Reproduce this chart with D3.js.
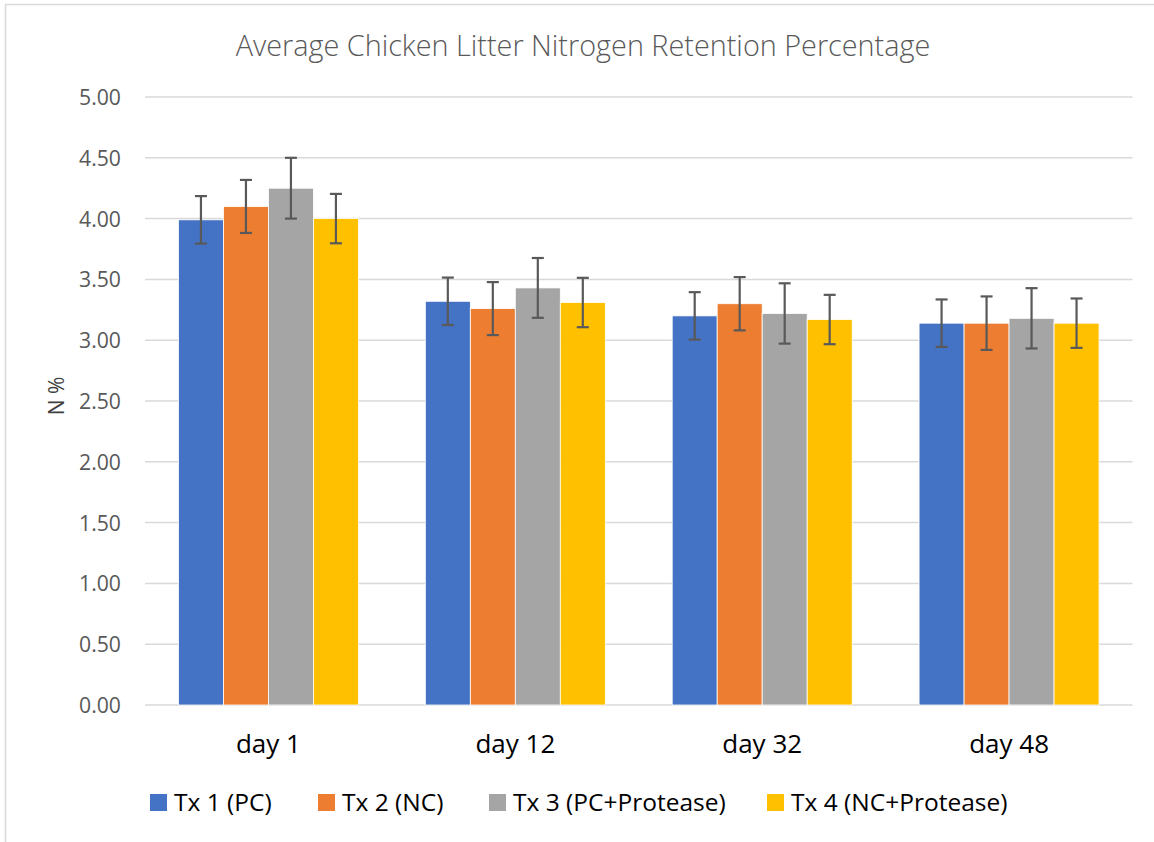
<!DOCTYPE html>
<html>
<head>
<meta charset="utf-8">
<script src="https://cdn.jsdelivr.net/npm/d3@7"></script>
<style>
  html, body { margin: 0; padding: 0; background: #fff; }
  svg { display: block; }
  text { font-family: "Open Sans", "Noto Sans", sans-serif; }
</style>
</head>
<body>
<svg id="chart" width="1154" height="842"></svg>
<script>
const title = "Average Chicken Litter Nitrogen Retention Percentage";
const yAxisLabel = "N %";
const categories = ["day 1", "day 12", "day 32", "day 48"];
const seriesNames = ["Tx 1 (PC)", "Tx 2 (NC)", "Tx 3 (PC+Protease)", "Tx 4 (NC+Protease)"];
const seriesColors = ["#4472C4", "#ED7D31", "#A5A5A5", "#FFC000"];
const tx1 = [3.99, 3.32, 3.20, 3.14];
const tx2 = [4.10, 3.26, 3.30, 3.14];
const tx3 = [4.25, 3.43, 3.22, 3.18];
const tx4 = [4.00, 3.31, 3.17, 3.14];
const err1 = [0.195, 0.195, 0.195, 0.195];
const err2 = [0.218, 0.218, 0.219, 0.220];
const err3 = [0.250, 0.246, 0.248, 0.248];
const err4 = [0.203, 0.203, 0.203, 0.203];
const yTicks = [0, 0.5, 1, 1.5, 2, 2.5, 3, 3.5, 4, 4.5, 5];

const seriesValues = [tx1, tx2, tx3, tx4];
const seriesErrors = [err1, err2, err3, err4];

const svg = d3.select("#chart");
const W = 1154, H = 842;
const plot = { left: 145, right: 1132.5, top: 97, bottom: 705 };

// outer border
svg.append("rect")
  .attr("x", 5.5).attr("y", 4.5)
  .attr("width", W + 10).attr("height", H + 10)
  .attr("fill", "none").attr("stroke", "#d9d9d9").attr("stroke-width", 1.5);

const x0 = d3.scaleBand().domain(categories).range([plot.left, plot.right]).paddingInner(0.271).paddingOuter(0.1355);
const x1 = d3.scaleBand().domain(seriesNames).range([0, x0.bandwidth()]).padding(0);
const y = d3.scaleLinear().domain([0, 5]).range([plot.bottom, plot.top]);

// gridlines
svg.append("g").selectAll("line").data(yTicks).join("line")
  .attr("x1", plot.left).attr("x2", plot.right)
  .attr("y1", d => y(d)).attr("y2", d => y(d))
  .attr("stroke", "#d9d9d9").attr("stroke-width", 1.5);

// y tick labels
const yAxis = d3.axisLeft(y).tickValues(yTicks).tickFormat(d3.format(".2f")).tickSize(0).tickPadding(0);
const gy = svg.append("g").attr("transform", `translate(121,0)`).call(yAxis);
gy.select(".domain").remove();
gy.selectAll("text").attr("font-size", 21.2).attr("fill", "#595959").attr("dy", "0.35em")
  .style("font-family", "'Open Sans', sans-serif");

// bars
const rows = [];
categories.forEach((c, ci) => {
  seriesNames.forEach((s, si) => {
    rows.push({ cat: c, ser: s, si, v: seriesValues[si][ci], e: seriesErrors[si][ci] });
  });
});

const gBars = svg.append("g");
gBars.selectAll("rect").data(rows).join("rect")
  .attr("x", d => x0(d.cat) + x1(d.ser))
  .attr("y", d => y(d.v))
  .attr("width", x1.bandwidth())
  .attr("height", d => y(0) - y(d.v))
  .attr("fill", d => seriesColors[d.si])
  .attr("stroke", "#ffffff").attr("stroke-width", 0.8);

// error bars
const gErr = svg.append("g").attr("stroke", "#595959").attr("stroke-width", 2.2);
rows.forEach(d => {
  const cx = x0(d.cat) + x1(d.ser) + x1.bandwidth() / 2;
  const yt = y(d.v + d.e), yb = y(d.v - d.e);
  gErr.append("line").attr("x1", cx).attr("x2", cx).attr("y1", yt).attr("y2", yb);
  gErr.append("line").attr("x1", cx - 6).attr("x2", cx + 6).attr("y1", yt).attr("y2", yt);
  gErr.append("line").attr("x1", cx - 6).attr("x2", cx + 6).attr("y1", yb).attr("y2", yb);
});

// x axis labels
const xAxis = d3.axisBottom(x0).tickSize(0).tickPadding(0);
const gx = svg.append("g").attr("transform", `translate(0,${plot.bottom})`).call(xAxis);
gx.select(".domain").remove();
gx.selectAll("text").attr("font-size", 26).attr("fill", "#000").attr("y", 48).attr("dy", 0)
  .style("font-family", "'Open Sans', sans-serif");

// title
svg.append("text")
  .attr("x", 583).attr("y", 56)
  .attr("text-anchor", "middle")
  .attr("font-size", 28.8).attr("font-weight", 300).attr("fill", "#595959")
  .text(title);

// y axis title
svg.append("text")
  .attr("transform", "translate(64,396) rotate(-90)")
  .attr("text-anchor", "middle")
  .attr("font-size", 21).attr("fill", "#404040")
  .text(yAxisLabel);

// legend
const legendX = [150, 318, 489, 767];
const gLeg = svg.append("g");
seriesNames.forEach((s, i) => {
  const g = gLeg.append("g").attr("transform", `translate(${legendX[i]},0)`);
  g.append("rect").attr("x", 0).attr("y", 794).attr("width", 17).attr("height", 17).attr("fill", seriesColors[i]);
  g.append("text").attr("x", 24).attr("y", 811).attr("font-size", 24.5).attr("fill", "#000").text(s);
});
</script>
</body>
</html>
